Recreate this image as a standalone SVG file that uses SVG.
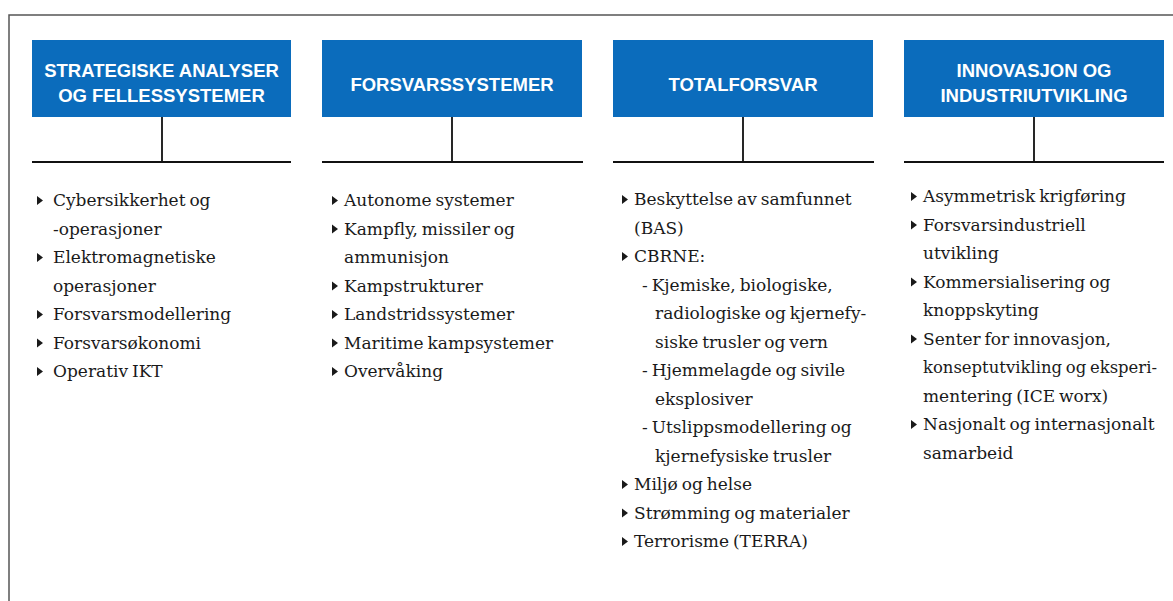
<svg xmlns="http://www.w3.org/2000/svg" xmlns:xlink="http://www.w3.org/1999/xlink" width="1173" height="601" viewBox="0 0 1173 601">
<style>
.frame{fill:none;stroke:#555;stroke-width:1.5}
.box{fill:#0b6cbc}
.hd{font-family:"Liberation Sans",Arial,sans-serif;font-weight:bold;font-size:18.5px;fill:#fff;text-anchor:middle}
.con{fill:none;stroke:#111;stroke-width:1.8}
.t{font-family:"DejaVu Serif","Liberation Serif",serif;font-size:17px;fill:#1a1a1a;word-spacing:-1.5px}
.bul{fill:#1a1a1a}
</style>
<defs>
<path id="tri" d="M0,-4.5 L6,0 L0,4.5 Z"/>
</defs>
<rect x="0" y="0" width="1173" height="601" fill="#fff"/>
<path class="frame" d="M9,601 L9,15 L1173,15"/>

<g id="connectors">
<path class="con" d="M162,117 V162 M32,162 H291"/>
<path class="con" d="M452,117 V162 M322,162 H583"/>
<path class="con" d="M743,117 V162 M613,162 H874"/>
<path class="con" d="M1034,117 V162 M904,162 H1164"/>
</g>

<g id="node-strategiske">
<rect class="box" x="32" y="40" width="259" height="77"/>
<text class="hd" x="161.5" y="77">STRATEGISKE ANALYSER</text>
<text class="hd" x="161.5" y="102">OG FELLESSYSTEMER</text>
</g>
<g id="node-forsvarssystemer">
<rect class="box" x="322" y="40" width="260" height="77"/>
<text class="hd" x="452" y="91">FORSVARSSYSTEMER</text>
</g>
<g id="node-totalforsvar">
<rect class="box" x="613" y="40" width="260" height="77"/>
<text class="hd" x="743" y="91">TOTALFORSVAR</text>
</g>
<g id="node-innovasjon">
<rect class="box" x="904" y="40" width="260" height="77"/>
<text class="hd" x="1034" y="77">INNOVASJON OG</text>
<text class="hd" x="1034" y="102">INDUSTRIUTVIKLING</text>
</g>

<g id="list-strategiske">
<use class="bul" xlink:href="#tri" x="37" y="200.5"/>
<use class="bul" xlink:href="#tri" x="37" y="257.5"/>
<use class="bul" xlink:href="#tri" x="37" y="314.5"/>
<use class="bul" xlink:href="#tri" x="37" y="343"/>
<use class="bul" xlink:href="#tri" x="37" y="371.5"/>
<text class="t" x="53" y="206">Cybersikkerhet og</text>
<text class="t" x="53" y="234.5">-operasjoner</text>
<text class="t" x="53" y="263">Elektromagnetiske</text>
<text class="t" x="53" y="291.5">operasjoner</text>
<text class="t" x="53" y="320">Forsvarsmodellering</text>
<text class="t" x="53" y="348.5">Forsvarsøkonomi</text>
<text class="t" x="53" y="377">Operativ IKT</text>
</g>

<g id="list-forsvarssystemer">
<use class="bul" xlink:href="#tri" x="332" y="200.5"/>
<use class="bul" xlink:href="#tri" x="332" y="229"/>
<use class="bul" xlink:href="#tri" x="332" y="286"/>
<use class="bul" xlink:href="#tri" x="332" y="314.5"/>
<use class="bul" xlink:href="#tri" x="332" y="343"/>
<use class="bul" xlink:href="#tri" x="332" y="371.5"/>
<text class="t" x="344" y="206">Autonome systemer</text>
<text class="t" x="344" y="234.5">Kampfly, missiler og</text>
<text class="t" x="344" y="263">ammunisjon</text>
<text class="t" x="344" y="291.5">Kampstrukturer</text>
<text class="t" x="344" y="320">Landstridssystemer</text>
<text class="t" x="344" y="348.5">Maritime kampsystemer</text>
<text class="t" x="344" y="377">Overvåking</text>
</g>

<g id="list-totalforsvar">
<use class="bul" xlink:href="#tri" x="622" y="199.5"/>
<use class="bul" xlink:href="#tri" x="622" y="256.5"/>
<use class="bul" xlink:href="#tri" x="622" y="484.5"/>
<use class="bul" xlink:href="#tri" x="622" y="513"/>
<use class="bul" xlink:href="#tri" x="622" y="541.5"/>
<text class="t" x="634" y="205">Beskyttelse av samfunnet</text>
<text class="t" x="634" y="233.5">(BAS)</text>
<text class="t" x="634" y="262">CBRNE:</text>
<text class="t" x="642" y="290.5">- Kjemiske, biologiske,</text>
<text class="t" x="655" y="319">radiologiske og kjernefy-</text>
<text class="t" x="655" y="347.5">siske trusler og vern</text>
<text class="t" x="642" y="376">- Hjemmelagde og sivile</text>
<text class="t" x="655" y="404.5">eksplosiver</text>
<text class="t" x="642" y="433">- Utslippsmodellering og</text>
<text class="t" x="655" y="461.5">kjernefysiske trusler</text>
<text class="t" x="634" y="490">Miljø og helse</text>
<text class="t" x="634" y="518.5">Strømming og materialer</text>
<text class="t" x="634" y="547">Terrorisme (TERRA)</text>
</g>

<g id="list-innovasjon">
<use class="bul" xlink:href="#tri" x="911" y="196.5"/>
<use class="bul" xlink:href="#tri" x="911" y="225"/>
<use class="bul" xlink:href="#tri" x="911" y="282"/>
<use class="bul" xlink:href="#tri" x="911" y="339"/>
<use class="bul" xlink:href="#tri" x="911" y="424.5"/>
<text class="t" x="923" y="202">Asymmetrisk krigføring</text>
<text class="t" x="923" y="230.5">Forsvarsindustriell</text>
<text class="t" x="923" y="259">utvikling</text>
<text class="t" x="923" y="287.5">Kommersialisering og</text>
<text class="t" x="923" y="316">knoppskyting</text>
<text class="t" x="923" y="344.5">Senter for innovasjon,</text>
<text class="t" x="923" y="373" textLength="234" lengthAdjust="spacingAndGlyphs">konseptutvikling og eksperi-</text>
<text class="t" x="923" y="401.5">mentering (ICE worx)</text>
<text class="t" x="923" y="430">Nasjonalt og internasjonalt</text>
<text class="t" x="923" y="458.5">samarbeid</text>
</g>
</svg>
